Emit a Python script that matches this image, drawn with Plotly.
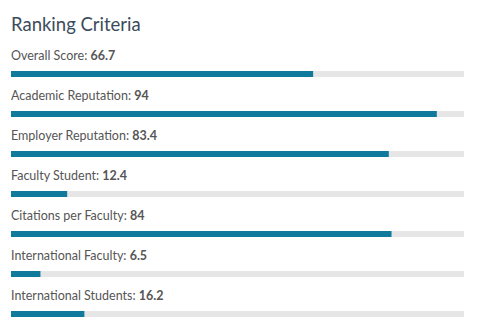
import plotly.graph_objects as go

categories = ["Overall Score", "Academic Reputation", "Employer Reputation",
              "Faculty Student", "Citations per Faculty", "International Faculty",
              "International Students"]
values = [66.7, 94, 83.4, 12.4, 84, 6.5, 16.2]
value_labels = ["66.7", "94", "83.4", "12.4", "84", "6.5", "16.2"]
max_score = [100] * len(categories)
title = "Ranking Criteria"

W, H = 479, 331
x0, x1 = 11, 464
first_center, step = 74, 40

fig = go.Figure()
fig.add_trace(go.Bar(y=categories, x=max_score, orientation="h",
                     marker=dict(color="#e6e6e6", line_width=0), width=0.15,
                     hoverinfo="skip"))
fig.add_trace(go.Bar(y=categories, x=values, orientation="h",
                     marker=dict(color="#0f7a9b", line_width=0), width=0.15))

for c, v in zip(categories, value_labels):
    fig.add_annotation(x=0, y=c, xref="x", yref="y", xanchor="left", yanchor="middle",
                       yshift=19, xshift=-2, showarrow=False,
                       text=f"{c}: <b>{v}</b>",
                       font=dict(family="Lato", size=12.5, color="#555555"))

fig.add_annotation(x=x0 / W, y=1 - 24 / H, xref="paper", yref="paper",
                   xanchor="left", yanchor="middle", xshift=-2, showarrow=False,
                   text=title, font=dict(family="Lato", size=18.5, color="#3b4c5c"))

top = (0 - first_center) / step
bottom = (H - first_center) / step
fig.update_layout(
    width=W, height=H, margin=dict(l=0, r=0, t=0, b=0),
    paper_bgcolor="white", plot_bgcolor="white",
    barmode="overlay", showlegend=False,
    xaxis=dict(range=[0, 100], domain=[x0 / W, x1 / W], visible=False, fixedrange=True),
    yaxis=dict(type="category", categoryorder="array", categoryarray=categories,
               range=[bottom, top], visible=False, fixedrange=True),
)
fig.write_html("out.html")
